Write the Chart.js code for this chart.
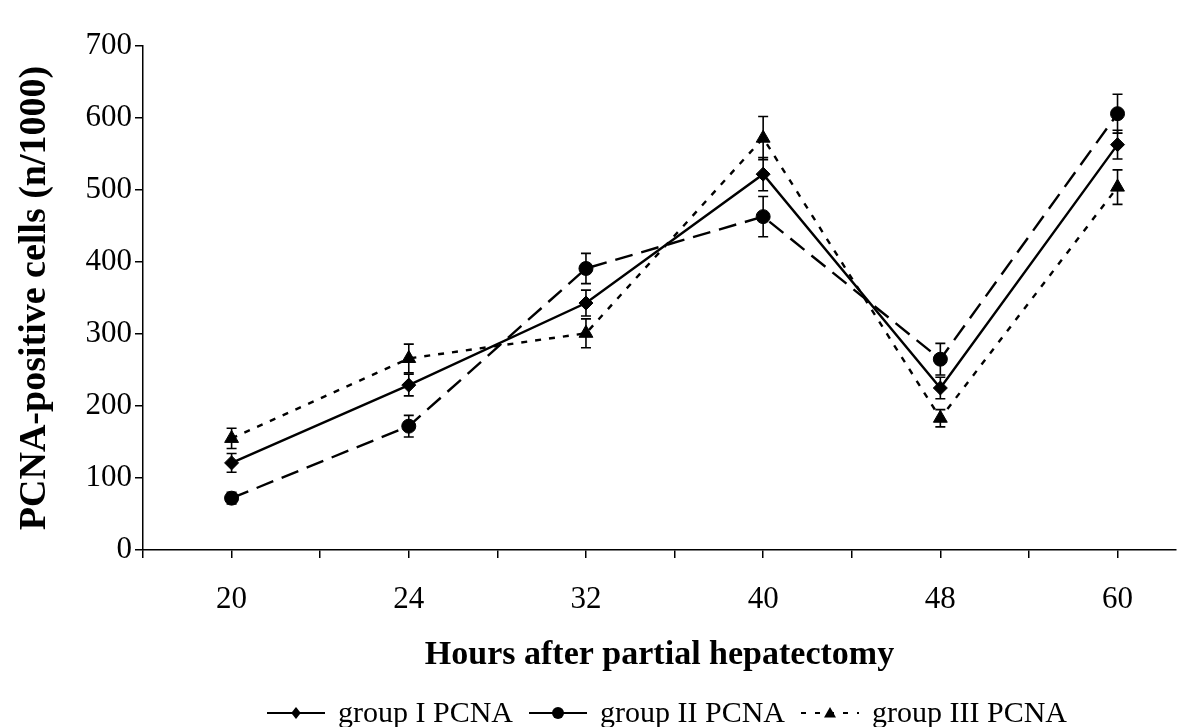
<!DOCTYPE html>
<html>
<head>
<meta charset="utf-8">
<script src="https://cdn.jsdelivr.net/npm/chart.js@4.4.1/dist/chart.umd.min.js"></script>
<style>
  html, body { margin: 0; padding: 0; background: #fff; }
  #wrap { width: 1198px; height: 727px; position: relative; }
</style>
</head>
<body>
<div id="wrap"><canvas id="c"></canvas></div>
<script>
// ---- data ----
const categories = ['20', '24', '32', '40', '48', '60'];
const yTicks = [0, 100, 200, 300, 400, 500, 600, 700];
const seriesNames = ['group I PCNA', 'group II PCNA', 'group III PCNA'];
const group1 = [121, 229, 343, 522, 225, 563];
const group1Err = [13, 15, 18, 23, 15, 20];
const group2 = [72, 172, 391, 463, 265, 606];
const group2Err = [8, 15, 21, 28, 22, 27];
const group3 = [155, 266, 301, 572, 183, 504];
const group3Err = [14, 20, 20, 30, 12, 24];

const SERIF = '"Liberation Serif", "Times New Roman", serif';

function toPts(vals) { return vals.map((v, i) => ({ x: i, y: v })); }

const dashes = [[], [18, 9], [6, 8]];
const legendDashes = [[], [], [5, 9]];
const markers = ['diamond', 'circle', 'triangle'];

function drawMarker(g, style, cx, cy, r) {
  g.beginPath();
  if (style === 'diamond') { g.moveTo(cx, cy - r); g.lineTo(cx + r * 0.8, cy); g.lineTo(cx, cy + r); g.lineTo(cx - r * 0.8, cy); g.closePath(); }
  else if (style === 'circle') { g.arc(cx, cy, r, 0, Math.PI * 2); }
  else { g.moveTo(cx, cy - r); g.lineTo(cx + r, cy + r * 0.75); g.lineTo(cx - r, cy + r * 0.75); g.closePath(); }
  g.fill();
}

// custom bottom legend (line + marker swatch, then label)
const bottomLegend = {
  id: 'bottomLegend',
  afterDraw(chart) {
    const ctx = chart.ctx;
    const swW = 58, gap = 13, spacing = 16, cy = 713, centerX = 667;
    ctx.save();
    ctx.font = '30px ' + SERIF;
    const labels = chart.data.datasets.map(d => d.label);
    const widths = labels.map(t => ctx.measureText(t).width);
    const total = widths.reduce((a, b) => a + b, 0) + labels.length * (swW + gap) + (labels.length - 1) * spacing;
    let x = centerX - total / 2;
    labels.forEach((t, i) => {
      ctx.strokeStyle = '#000'; ctx.fillStyle = '#000'; ctx.lineWidth = 2;
      ctx.setLineDash(legendDashes[i]);
      ctx.beginPath(); ctx.moveTo(x, cy); ctx.lineTo(x + swW, cy); ctx.stroke();
      ctx.setLineDash([]);
      drawMarker(ctx, markers[i], x + swW / 2, cy, 6);
      x += swW + gap;
      ctx.textBaseline = 'middle'; ctx.textAlign = 'left';
      ctx.fillText(t, x, cy + 1);
      x += widths[i] + spacing;
    });
    ctx.restore();
  }
};

const errorBars = {
  id: 'errorBars',
  afterDatasetsDraw(chart) {
    const ctx = chart.ctx, ys = chart.scales.y;
    ctx.save();
    ctx.strokeStyle = '#000'; ctx.lineWidth = 1.6;
    chart.data.datasets.forEach((ds, di) => {
      const meta = chart.getDatasetMeta(di);
      meta.data.forEach((pt, i) => {
        const v = ds.data[i].y, e = ds.errors[i];
        const yt = ys.getPixelForValue(v + e), yb = ys.getPixelForValue(v - e);
        const x = pt.x, cap = 5;
        ctx.beginPath();
        ctx.moveTo(x, yt); ctx.lineTo(x, yb);
        ctx.moveTo(x - cap, yt); ctx.lineTo(x + cap, yt);
        ctx.moveTo(x - cap, yb); ctx.lineTo(x + cap, yb);
        ctx.stroke();
      });
    });
    ctx.restore();
  }
};

const mk = (name, vals, errs, i, style, radius) => ({
  label: name,
  data: toPts(vals),
  errors: errs,
  borderColor: '#000',
  backgroundColor: '#000',
  borderWidth: 2.4,
  borderDash: dashes[i],
  pointStyle: style,
  pointRadius: radius,
  pointBackgroundColor: '#000',
  pointBorderColor: '#000',
  pointBorderWidth: 1,
  tension: 0
});

new Chart(document.getElementById('c'), {
  type: 'line',
  data: {
    datasets: [
      mk(seriesNames[0], group1, group1Err, 0, 'rectRot', 7),
      mk(seriesNames[1], group2, group2Err, 1, 'circle', 7),
      mk(seriesNames[2], group3, group3Err, 2, 'triangle', 8)
    ]
  },
  options: {
    responsive: true,
    maintainAspectRatio: false,
    animation: false,
    layout: { padding: { top: 46, right: 22, bottom: 0, left: 0 } },
    plugins: {
      tooltip: { enabled: false },
      legend: { display: false }
    },
    scales: {
      x: {
        type: 'linear',
        min: -0.5,
        max: 5.33,
        afterBuildTicks: (s) => {
          s.ticks = [];
          for (let k = -1; k <= 10; k++) s.ticks.push({ value: k / 2 });
        },
        afterFit: (s) => { s.height = 177; },
        ticks: {
          autoSkip: false,
          maxRotation: 0,
          includeBounds: false,
          color: '#000',
          padding: 23,
          font: { family: SERIF, size: 31 },
          callback: (v) => {
            const r = Math.round(v);
            return Math.abs(v - r) < 1e-6 && r >= 0 && r < categories.length ? categories[r] : '';
          }
        },
        grid: { display: true, drawOnChartArea: false, drawTicks: true, tickLength: 8, color: '#000', lineWidth: 1.5 },
        border: { display: true, color: '#000', width: 1.5 },
        title: {
          display: true,
          text: 'Hours after partial hepatectomy',
          color: '#000',
          font: { family: SERIF, size: 34, weight: 'bold' },
          padding: { top: 0, bottom: 51 }
        }
      },
      y: {
        min: 0,
        max: 700,
        afterBuildTicks: (s) => { s.ticks = yTicks.map(v => ({ value: v })); },
        afterFit: (s) => { s.width = 143; },
        ticks: {
          color: '#000',
          padding: 3,
          font: { family: SERIF, size: 31 }
        },
        grid: { display: true, drawOnChartArea: false, drawTicks: true, tickLength: 8, color: '#000', lineWidth: 1.5 },
        border: { display: true, color: '#000', width: 1.5 },
        title: {
          display: true,
          text: 'PCNA-positive cells (n/1000)',
          color: '#000',
          font: { family: SERIF, size: 38, weight: 'bold' },
          padding: { top: 12, bottom: 0 }
        }
      }
    }
  },
  plugins: [errorBars, bottomLegend]
});
</script>
</body>
</html>
